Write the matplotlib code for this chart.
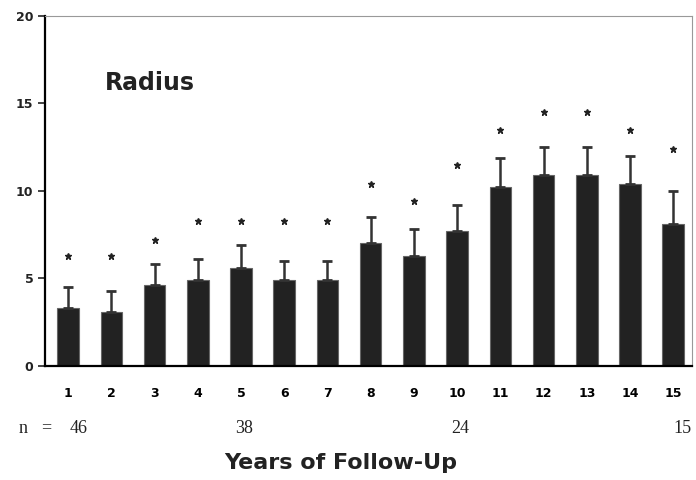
import matplotlib.pyplot as plt

years = list(range(1, 16))
means = [3.3, 3.1, 4.6, 4.9, 5.6, 4.9, 4.9, 7.0, 6.3, 7.7, 10.2, 10.9, 10.9, 10.4, 8.1]
sd = [1.2, 1.2, 1.2, 1.2, 1.3, 1.1, 1.1, 1.5, 1.5, 1.5, 1.7, 1.6, 1.6, 1.6, 1.9]
star_y = [6.3, 6.3, 7.2, 8.3, 8.3, 8.3, 8.3, 10.4, 9.4, 11.5, 13.5, 14.5, 14.5, 13.5, 12.4]
n_pos = [1.24, 5.07, 10.07, 15.21]
n_labels = ['46', '38', '24', '15']

fig = plt.figure(figsize=(6.96, 4.8), dpi=100)
ax = fig.add_axes([0.065, 0.238, 0.929, 0.729])

ax.bar(years, means, width=0.5, color='#222222', edgecolor='#666666', linewidth=0.8)
ax.errorbar(years, means, yerr=[[0] * 15, sd], fmt='none', ecolor='#333333',
            elinewidth=1.8, capsize=3.3, capthick=2)
ax.plot(years, star_y, linestyle='none', marker='*', markersize=5, color='#222222')

ax.set_xlim(0.47, 15.43)
ax.set_ylim(0, 20)
ax.set_yticks([0, 5, 10, 15, 20])
ax.set_xticks(years)
ax.tick_params(axis='x', length=0, pad=15, labelsize=9)
ax.tick_params(axis='y', length=5, width=1.2, direction='out', labelsize=9, colors='#222222')
for lab in ax.get_xticklabels() + ax.get_yticklabels():
    lab.set_fontweight('bold')

ax.spines['left'].set_linewidth(1.6)
ax.spines['bottom'].set_linewidth(1.6)
ax.spines['top'].set_color('#999999')
ax.spines['right'].set_color('#999999')

ax.text(2.88, 16.15, 'Radius', fontsize=17, fontweight='bold', color='#222222',
        ha='center', va='center')

# n row beneath the year labels
serif = dict(fontsize=13, family='Liberation Serif', ha='center', va='center', color='#222222')
ax.text(-0.05, -3.56, 'n', **serif)
ax.text(0.5, -3.56, '=', **serif)
for x, s in zip(n_pos, n_labels):
    ax.text(x, -3.56, s, **serif)

ax.text(7.3, -5.58, 'Years of Follow-Up', fontsize=16, fontweight='bold', color='#222222',
        ha='center', va='center')

fig.savefig('out.png', dpi=100)
